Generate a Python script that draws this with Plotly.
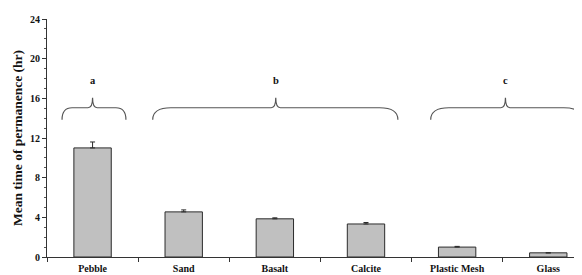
import plotly.graph_objects as go

categories = ["Pebble", "Sand", "Basalt", "Calcite", "Plastic Mesh", "Glass"]
mean_hours = [11.0, 4.55, 3.85, 3.33, 1.0, 0.42]
err_hours = [0.6, 0.2, 0.1, 0.15, 0.07, 0.0]
y_tick_vals = [0, 4, 8, 12, 16, 20, 24]

group_labels = ["a", "b", "c"]
group_spans = [(-0.335, 0.366, 0.0), (0.66, 3.35, 2.01), (3.71, 5.37, 4.53)]

FONT = "Liberation Serif"
x_idx = list(range(len(categories)))

fig = go.Figure()
fig.add_trace(go.Bar(
    x=x_idx, y=mean_hours, width=0.41,
    marker=dict(color="#c0c0c0", line=dict(color="#2b2b2b", width=1)),
    error_y=dict(type="data", array=err_hours, arrayminus=[0] * len(err_hours),
                 symmetric=False, color="#2b2b2b", thickness=1, width=2.5),
    showlegend=False,
))

# braces
yE, yM, yT = 13.85, 15.05, 16.05
for lab, (xl, xr, xp) in zip(group_labels, group_spans):
    dx = 0.11 if (xr - xl) < 1 else 0.2
    dt = 0.05
    path = (f"M {xl},{yE} Q {xl},{yM} {xl+dx},{yM} L {xp-dt},{yM} "
            f"Q {xp},{yM} {xp},{yT} Q {xp},{yM} {xp+dt},{yM} "
            f"L {xr-dx},{yM} Q {xr},{yM} {xr},{yE}")
    fig.add_shape(type="path", path=path, xref="x", yref="y",
                  line=dict(color="#555555", width=1.2))
    fig.add_annotation(x=xp, y=17.75, text=f"<b>{lab}</b>", showarrow=False,
                       font=dict(family=FONT, size=10.5, color="#111"),
                       xref="x", yref="y")

# page body has an 8px default margin, so the figure is sized to fill the rest
fig.update_layout(
    width=574, height=267,
    margin=dict(l=39, r=0, t=11, b=18),
    plot_bgcolor="white", paper_bgcolor="white",
    font=dict(family=FONT, color="#111"),
    bargap=0.5,
)
fig.update_xaxes(
    automargin=False,
    range=[-0.5, 5.37], tickmode="array", tickvals=x_idx,
    ticktext=[f"<b>{c}</b>" for c in categories],
    ticks="", ticklabelstandoff=2,
    tickfont=dict(family=FONT, size=10, color="#111"),
    showline=True, linecolor="#333", linewidth=1, showgrid=False, zeroline=False,
    minor=dict(tickmode="array", tickvals=[i - 0.5 for i in x_idx] + [len(categories) - 0.5],
               ticks="outside", ticklen=4, tickcolor="#333", showgrid=False),
)
fig.update_yaxes(
    automargin=False,
    range=[0, 24], tickmode="array", tickvals=y_tick_vals,
    ticktext=[f"<b>{v}</b>" for v in y_tick_vals],
    ticks="outside", ticklen=4, tickcolor="#333",
    tickfont=dict(family=FONT, size=10, color="#111"),
    showline=True, linecolor="#333", linewidth=1, showgrid=False, zeroline=False,
    minor=dict(dtick=1, ticks="outside", ticklen=2.5, tickcolor="#555", showgrid=False),
    title=dict(text="<b>Mean time of permanence (hr)</b>", standoff=4,
               font=dict(family=FONT, size=13.5, color="#111")),
)

fig.write_html("out.html")
